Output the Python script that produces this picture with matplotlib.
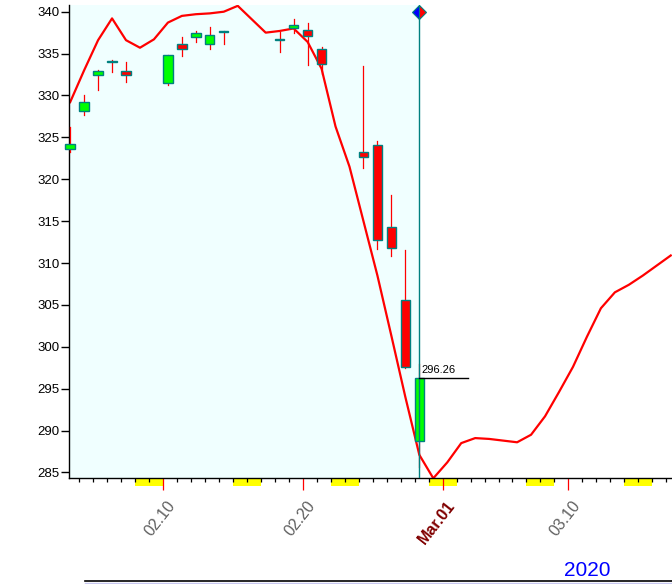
import pandas as pd
import matplotlib
matplotlib.use("Agg")
import matplotlib.pyplot as plt
import matplotlib.dates as mdates
from matplotlib.patches import Rectangle
from matplotlib.lines import Line2D

plt.rcParams['font.family'] = ['Liberation Sans', 'DejaVu Sans']

# daily candles (SPY, Feb 2020)
candle_dates = ['2020-02-03', '2020-02-04', '2020-02-05', '2020-02-06', '2020-02-07',
                '2020-02-10', '2020-02-11', '2020-02-12', '2020-02-13', '2020-02-14',
                '2020-02-18', '2020-02-19', '2020-02-20', '2020-02-21', '2020-02-24',
                '2020-02-25', '2020-02-26', '2020-02-27', '2020-02-28']
opens = [323.6, 328.2, 332.5, 334.0, 332.9, 331.5, 336.2, 337.0, 336.1, 337.6,
         336.6, 338.0, 337.8, 335.5, 323.2, 324.1, 314.3, 305.6, 288.8]
highs = [326.2, 330.1, 333.0, 334.2, 334.0, 334.85, 337.0, 337.7, 338.2, 337.75,
         337.6, 339.1, 338.7, 335.8, 333.5, 324.6, 318.1, 311.6, 297.9]
lows = [323.3, 327.7, 330.7, 332.8, 331.6, 331.2, 334.7, 336.4, 335.6, 336.1,
        335.2, 337.5, 333.6, 332.6, 321.3, 311.7, 310.8, 297.5, 285.7]
closes = [324.2, 329.2, 332.9, 334.1, 332.4, 334.8, 335.5, 337.5, 337.2, 337.7,
          336.7, 338.4, 337.1, 333.7, 322.6, 312.8, 311.8, 297.6, 296.26]

# red projection line, one value per calendar day
line_start = '2020-02-03'
line_values = [329.2, 333.0, 336.6, 339.2, 336.6, 335.7, 336.7, 338.7, 339.5, 339.7,
               339.8, 340.0, 340.7, 339.1, 337.5, 337.7, 338.0, 336.4, 333.2, 326.3,
               321.5, 315.0, 308.5, 301.3, 294.0, 287.1, 284.3, 286.2, 288.5, 289.1,
               289.0, 288.8, 288.6, 289.5, 291.7, 294.6, 297.6, 301.2, 304.6, 306.5,
               307.4, 308.5, 309.7, 310.9]

weekend_starts = ['2020-02-08', '2020-02-15', '2020-02-22', '2020-02-29',
                  '2020-03-07', '2020-03-14']
major_dates = ['2020-02-10', '2020-02-20', '2020-03-01', '2020-03-10']
major_labels = ['02.10', '02.20', 'Mar.01', '03.10']
last_close = 296.26

shift = 0.33  # bars sit a third of a day past midnight
cx = mdates.date2num(pd.to_datetime(candle_dates)) + shift
lx = mdates.date2num(pd.date_range(line_start, periods=len(line_values))) + shift

fig = plt.figure(figsize=(6.72, 5.84), dpi=100)
ax = fig.add_axes([69.3 / 672, 1 - 478.3 / 584, (672 - 69.3) / 672, (478.3 - 5) / 584])

x0 = mdates.date2num(pd.Timestamp('2020-02-03')) + 0.27
x1 = mdates.date2num(pd.Timestamp('2020-03-17')) + 0.42
ax.set_xlim(x0, x1)
ax.set_ylim(284.3, 340.8)

# shaded history area
ax.axvspan(x0, cx[-1], color='#F0FFFF', zorder=0, lw=0)

# projection line
ax.plot(lx, line_values, color='red', lw=1.6, zorder=2)

# candles
w = 0.67
for x, o, h, l, c in zip(cx, opens, highs, lows, closes):
    ax.plot([x, x], [l, h], color='red', lw=0.9, zorder=3, clip_on=False)
    face = '#00FF00' if c >= o else 'red'
    ax.add_patch(Rectangle((x - w / 2, min(o, c)), w, max(abs(c - o), 0.01),
                           facecolor=face, edgecolor='#008080', lw=1.0,
                           zorder=4, clip_on=False))

# cursor line, marker and last price
ax.plot([cx[-1], cx[-1]], [284.3, 340], color='#008080', lw=1.0, zorder=5)
ax.plot([cx[-1]], [340], marker='D', ms=7, fillstyle='left', markerfacecolor='blue',
        markerfacecoloralt='red', markeredgecolor='#008080', mew=0.8, zorder=6,
        clip_on=False)
ax.plot([cx[-1], cx[-1] + 3.5], [last_close, last_close], color='black', lw=1.0, zorder=5)
ax.text(cx[-1] + 0.12, last_close + 0.35, f'{last_close:.2f}', fontsize=8,
        color='black', ha='left', va='bottom', zorder=6)

# weekend markers under the axis
for d in weekend_starts:
    xs = mdates.date2num(pd.Timestamp(d))
    ax.add_patch(Rectangle((xs, -8 / 473.3), 2, 8 / 473.3, transform=ax.get_xaxis_transform(),
                           facecolor='#FFFF00', edgecolor='none', clip_on=False, zorder=1))

# axes styling
for s in ['top', 'right']:
    ax.spines[s].set_visible(False)
ax.spines['left'].set_linewidth(1.0)
ax.spines['bottom'].set_linewidth(1.0)

ax.set_yticks(range(285, 341, 5))
ax.tick_params(axis='y', length=6, width=1, labelsize=9.5, pad=1, colors='black')

day_ticks = mdates.date2num(pd.date_range('2020-02-04', '2020-03-17'))
mx = mdates.date2num(pd.to_datetime(major_dates))
ax.set_xticks([d for d in day_ticks if d not in mx], minor=True)
ax.set_xticks(mx)
ax.set_xticklabels([])
ax.tick_params(axis='x', which='minor', length=3.2, width=0.9, color='black')
ax.tick_params(axis='x', which='major', length=8.6, width=0.9, color='red')

for x, lab in zip(mx, major_labels):
    bold = lab.startswith('Mar')
    ax.annotate(lab, xy=(x, 0), xycoords=('data', 'axes fraction'),
                xytext=(2.5, -14.5), textcoords='offset points',
                rotation=52, rotation_mode='anchor', ha='right', va='top',
                fontsize=11.5, fontweight='bold' if bold else 'normal',
                color='#800000' if bold else '#606060', annotation_clip=False)

fig.text(587 / 672, 1 - 571 / 584, '2020', color='#0000FF', fontsize=15,
         ha='center', va='center')
fig.add_artist(Line2D([85 / 672, 1], [1 - 581.0 / 584] * 2, color='black', lw=1.2))
fig.add_artist(Line2D([85 / 672, 1], [1 - 583.0 / 584] * 2, color='#C8C8F0', lw=1.0))

fig.savefig('out.png', dpi=100)
